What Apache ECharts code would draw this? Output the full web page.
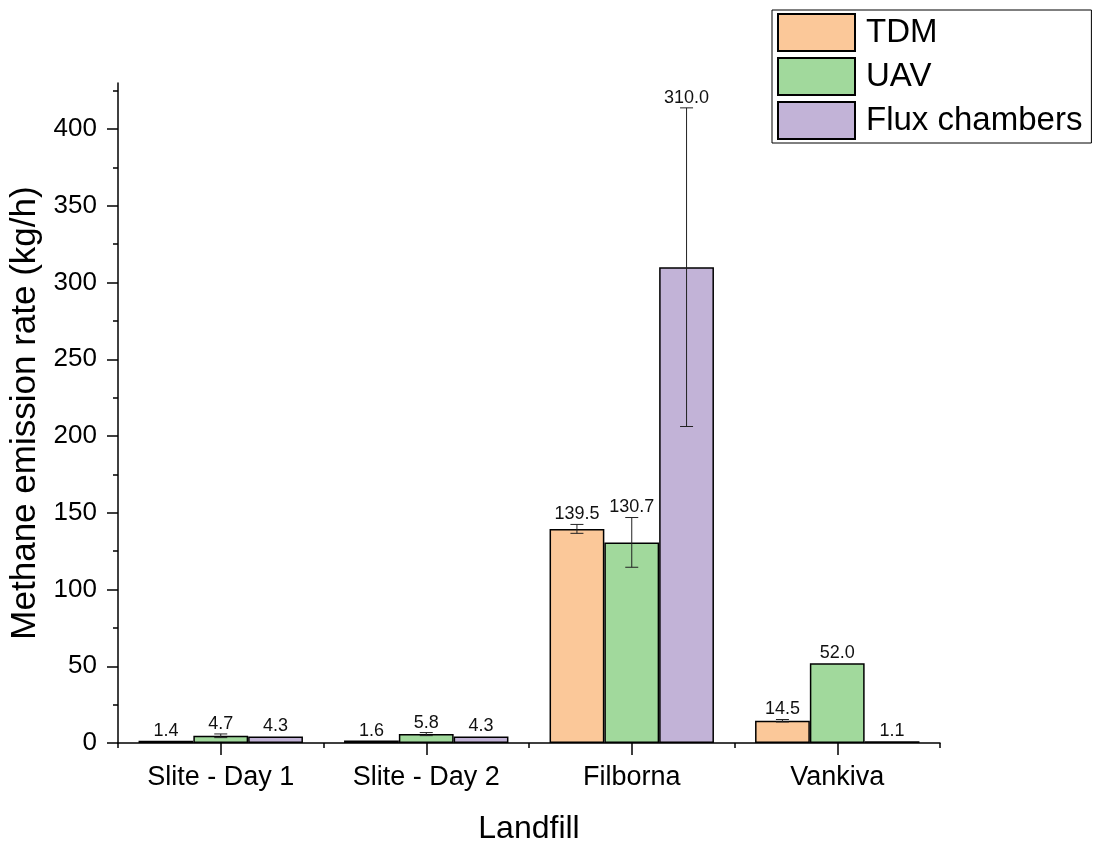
<!DOCTYPE html>
<html>
<head>
<meta charset="utf-8">
<script src="https://cdn.jsdelivr.net/npm/echarts@6/dist/echarts.min.js"></script>
<style>html,body{margin:0;padding:0;background:#fff}#c{width:1094px;height:842px}</style>
</head>
<body>
<div id="c"></div>
<script>
const categories = ['Slite - Day 1', 'Slite - Day 2', 'Filborna', 'Vankiva'];
const seriesNames = ['TDM', 'UAV', 'Flux chambers'];
const tdm = [1.4, 1.6, 139.5, 14.5];
const tdmErr = [0, 0, 2.9, 0.8];
const uav = [4.7, 5.8, 130.7, 52.0];
const uavErr = [1.2, 1.0, 16.2, 0];
const flux = [4.3, 4.3, 310.0, 1.1];
const fluxErr = [0, 0, 103.8, 0];
const yTicks = [0, 50, 100, 150, 200, 250, 300, 350, 400];
const yMinorTicks = [25, 75, 125, 175, 225, 275, 325, 375, 425];

const colors = ['#FBC899', '#A1D99C', '#C2B3D7'];
const values = [tdm, uav, flux];
const errs = [tdmErr, uavErr, fluxErr];
const FONT = 'Liberation Sans, Arial, sans-serif';

function makeErr(k) {
  return {
    type: 'custom',
    name: seriesNames[k] + ' err',
    xAxisIndex: 0, yAxisIndex: 0,
    z: 5,
    data: values[k].map((v, i) => [i, v, errs[k][i]]),
    renderItem: function (params, api) {
      const ci = api.value(0), v = api.value(1), e = api.value(2);
      const band = api.size([1, 0])[0];
      const bw = band * 0.8 / 3;
      const c = api.coord([ci, v]);
      const x = c[0] + (k - 1) * bw;
      const top = api.coord([ci, v + e])[1];
      const bot = api.coord([ci, v - e])[1];
      const ch = [];
      const st = { stroke: '#222', lineWidth: 1 };
      if (e > 0) {
        ch.push({ type: 'line', shape: { x1: x, y1: top, x2: x, y2: bot }, style: st });
        ch.push({ type: 'line', shape: { x1: x - 6.5, y1: top, x2: x + 6.5, y2: top }, style: st });
        ch.push({ type: 'line', shape: { x1: x - 6.5, y1: bot, x2: x + 6.5, y2: bot }, style: st });
      }
      ch.push({
        type: 'text',
        style: {
          x: x, y: top - 1, text: v.toFixed(1),
          textAlign: 'center', textVerticalAlign: 'bottom',
          fill: '#111', font: '18px ' + FONT
        }
      });
      return { type: 'group', children: ch };
    }
  };
}

const series = [];
for (let k = 0; k < 3; k++) {
  series.push({
    type: 'bar',
    name: seriesNames[k],
    xAxisIndex: 0, yAxisIndex: 0,
    data: values[k],
    barGap: '0%',
    barCategoryGap: '20%',
    itemStyle: { color: colors[k], borderColor: '#000', borderWidth: 1.5 }
  });
}
for (let k = 0; k < 3; k++) series.push(makeErr(k));

const chart = echarts.init(document.getElementById('c'));
chart.setOption({
  animation: false,
  backgroundColor: '#fff',
  textStyle: { fontFamily: FONT },
  grid: { left: 118, right: 154, top: 83, bottom: 99, containLabel: false, outerBoundsMode: 'none' },
  legend: {
    data: seriesNames,
    orient: 'vertical',
    left: 772, top: 10,
    padding: [3, 9, 3, 5],
    itemGap: 5,
    itemWidth: 77, itemHeight: 37,
    icon: 'rect',
    backgroundColor: '#fff',
    borderColor: '#000', borderWidth: 1, borderRadius: 0,
    textStyle: { fontSize: 33, color: '#000', fontFamily: FONT, padding: [0, 0, 0, 6] }
  },
  xAxis: [{
    type: 'category', data: categories, position: 'bottom', gridIndex: 0,
    boundaryGap: true,
    name: 'Landfill', nameLocation: 'middle', nameGap: 70,
    nameTextStyle: { fontSize: 32, color: '#000', fontFamily: FONT },
    axisLine: { show: true, lineStyle: { color: '#000', width: 1.5 } },
    axisTick: { show: true, alignWithLabel: true, length: 12, lineStyle: { color: '#000', width: 1.5 } },
    axisLabel: { fontSize: 27, color: '#000', margin: 21, fontFamily: FONT },
    splitLine: { show: false }
  }, {
    type: 'category', data: categories, position: 'bottom', gridIndex: 0,
    boundaryGap: true,
    axisLine: { show: false },
    axisTick: { show: true, length: 5, lineStyle: { color: '#000', width: 1.5 } },
    axisLabel: { show: false },
    splitLine: { show: false }
  }],
  yAxis: [{
    type: 'value', min: 0, max: 430, interval: 50, position: 'left', gridIndex: 0,
    name: 'Methane emission rate (kg/h)', nameLocation: 'middle', nameGap: 70,
    nameTextStyle: { fontSize: 35, color: '#000', fontFamily: FONT },
    axisLine: { show: true, lineStyle: { color: '#000', width: 1.5 } },
    axisTick: { show: true, length: 11, customValues: yTicks, lineStyle: { color: '#000', width: 1.5 } },
    axisLabel: { fontSize: 26, color: '#000', margin: 21, customValues: yTicks, fontFamily: FONT },
    splitLine: { show: false }
  }, {
    type: 'value', min: 0, max: 430, position: 'left', gridIndex: 0, offset: 0,
    axisLine: { show: false },
    axisTick: { show: true, length: 5, customValues: yMinorTicks, lineStyle: { color: '#000', width: 1.5 } },
    axisLabel: { show: false },
    splitLine: { show: false }
  }],
  series: series
});
</script>
</body>
</html>
